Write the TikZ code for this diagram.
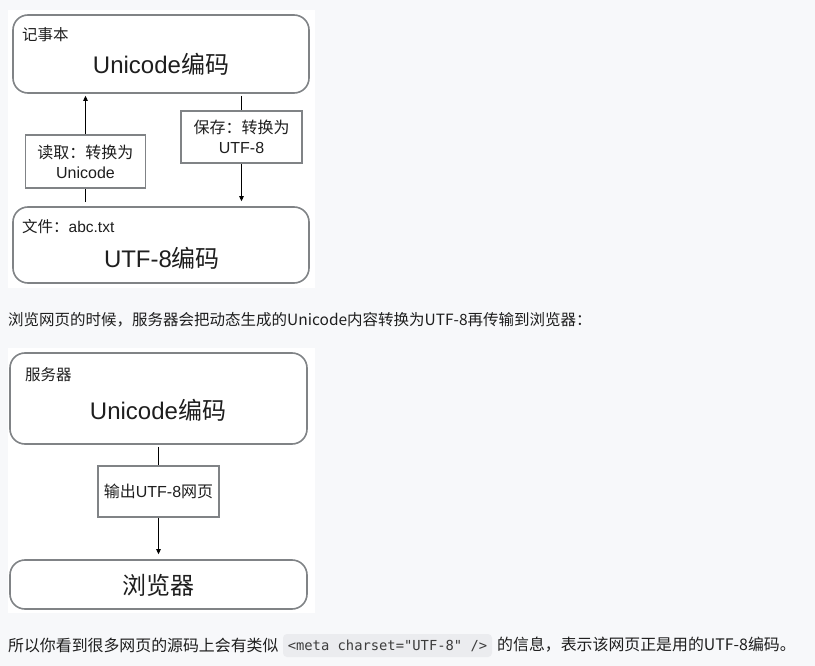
\documentclass[tikz,border=0pt]{standalone}
\usepackage{fontspec}
\setmainfont{Liberation Sans}
\newfontfamily\cjk{Noto Sans CJK SC}
\newfontfamily\codefont{DejaVu Sans Mono}
\usetikzlibrary{arrows.meta}
\definecolor{pagebg}{HTML}{F7F8FA}
\definecolor{bordergray}{HTML}{808386}
\definecolor{txt}{HTML}{1E1E1E}
\definecolor{codebg}{HTML}{EBECEF}
\definecolor{codetxt}{HTML}{3C3C3C}
\begin{document}
\begin{tikzpicture}[x=1pt,y=-1pt,
  rbox/.style={draw=bordergray, line width=1.6pt, rounded corners=15pt, fill=white, inner sep=0pt},
  lbox/.style={draw=bordergray, line width=1.6pt, fill=white, inner sep=0pt, align=center, text=txt,
    font=\fontsize{16}{20}\selectfont},
  arr/.style={-{Triangle[length=5pt,width=4.5pt]}, line width=0.9pt, black},
  ln/.style={line width=0.9pt, black},
  small/.style={text=txt, inner sep=0pt, font=\fontsize{15.5}{18}\selectfont},
  big/.style={text=txt, inner sep=0pt, font=\fontsize{24}{28}\selectfont},
  para/.style={text=txt, inner sep=0pt, anchor=west, font=\fontsize{15.5}{18}\selectfont\cjk},
  parab/.style={para, font=\fontsize{15.9}{18}\selectfont\cjk}]
\useasboundingbox (0,0) rectangle (815,666);
\fill[pagebg] (0,0) rectangle (815,666);
% white panels
\fill[white] (8,10) rectangle (315,288);
\fill[white] (8,348) rectangle (315,613);

% ---- diagram 1 ----
\node[rbox, minimum width=296pt, minimum height=78pt] (nb) at (161,54) {};
\node[rbox, minimum width=296pt, minimum height=76pt] (fb) at (161,245) {};
\node[small, anchor=west] (nbl) at (22,35) {\cjk 记事本};
\node[big] (nbt) at (161,64) {Unicode{\cjk 编码}};
\node[small, anchor=west] (fbl) at (22,227) {{\cjk 文件：}abc.txt};
\node[big] (fbt) at (162,258) {UTF-8{\cjk 编码}};

\node[lbox, minimum width=120pt, minimum height=53pt] (rd) at (85.5,161.5) {{\cjk 读取：转换为}\\Unicode};
\node[lbox, minimum width=121pt, minimum height=52pt] (sv) at (241.5,137) {{\cjk 保存：转换为}\\UTF-8};

\draw[ln] ([yshift=4pt]fb.north -| rd.center) -- (rd.south);
\draw[arr] (rd.north) -- ([yshift=-2pt]nb.south -| rd.center);
\draw[ln] ([yshift=-2pt]nb.south -| sv.center) -- (sv.north);
\draw[arr] (sv.south) -- ([yshift=5pt]fb.north -| sv.center);

% ---- paragraph 1 ----
\node[para] (p1) at (8,320) {浏览网页的时候，服务器会把动态生成的Unicode内容转换为UTF-8再传输到浏览器：};

% ---- diagram 2 ----
\node[rbox, minimum width=297pt, minimum height=91pt] (sb) at (158.5,398.5) {};
\node[rbox, minimum width=297pt, minimum height=49pt] (bb) at (158.5,584.5) {};
\node[small, anchor=west] (sbl) at (25,375) {\cjk 服务器};
\node[big] (sbt) at (158,410) {Unicode{\cjk 编码}};
\node[big] (bbt) at (158.5,585) {\cjk 浏览器};
\node[lbox, minimum width=121pt, minimum height=51pt] (ob) at (158.5,491.5) {{\cjk 输出}UTF-8{\cjk 网页}};

\draw[ln] ([yshift=-2pt]sb.south) -- (ob.north);
\draw[arr] (ob.south) -- ([yshift=5pt]bb.north);

% ---- paragraph 2 ----
\node[parab] (p2a) at (8,645) {所以你看到很多网页的源码上会有类似};
\node[fill=codebg, rounded corners=4pt, minimum width=209pt, minimum height=23pt, inner sep=0pt,
  text=codetxt, font=\fontsize{13.8}{16}\selectfont\codefont] (code) at (387.5,645.5) {<meta charset="UTF-8" />};
\node[parab] (p2b) at (497,645) {的信息，表示该网页正是用的UTF-8编码。};
\end{tikzpicture}
\end{document}
